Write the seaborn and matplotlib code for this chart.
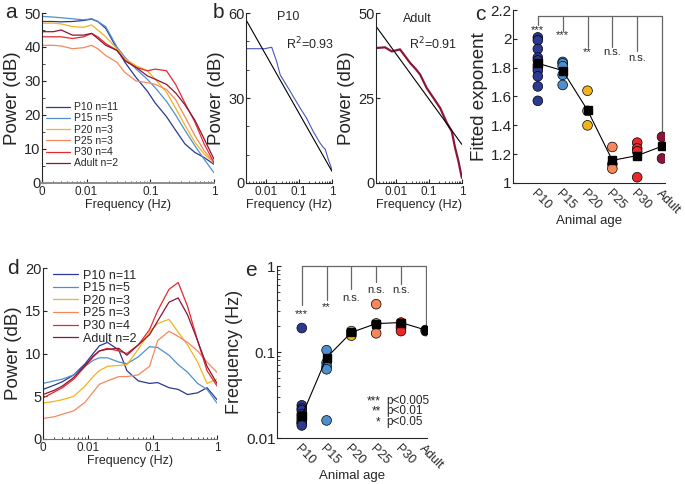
import numpy as np
import pandas as pd
import seaborn as sns
import matplotlib.pyplot as plt
from matplotlib.ticker import MultipleLocator, NullFormatter

sns.set_style('ticks')
plt.rcParams['font.family'] = ['Liberation Sans', 'DejaVu Sans']
plt.rcParams['xtick.direction'] = 'in'
plt.rcParams['ytick.direction'] = 'in'
plt.rcParams['axes.linewidth'] = 0.8

ages = ['P10', 'P15', 'P20', 'P25', 'P30', 'Adult']
counts = [11, 5, 3, 3, 4, 2]
colors = ['#2b3990', '#4f8fcf', '#f0b41c', '#f7875a', '#e8282b', '#8c1537']

# panel a - power spectra (dB)
freq_a = [0.002, 0.003, 0.004, 0.006, 0.009, 0.012, 0.015, 0.02, 0.03, 0.04,
          0.06, 0.09, 0.12, 0.18, 0.25, 0.35, 0.5, 0.7, 1.0]
a_p10 = [47.5, 47.5, 47.4, 47.5, 47.8, 48.2, 47.5, 45.5, 39.5, 35.5, 31, 27, 23.5, 19.5, 15.5, 11.5, 9, 7.5, 5.5]
a_p15 = [49, 48.8, 48.6, 48.3, 48, 48.3, 47.5, 46, 40, 37, 33.5, 30.5, 28, 24, 20, 15.5, 11, 7, 3]
a_p20 = [47, 47, 46.8, 46, 45.8, 46.5, 45, 43, 39.5, 36.5, 34.5, 33, 30.5, 26.7, 22, 17, 12, 8.5, 6]
a_p25 = [40.5, 40.5, 40.3, 39.5, 39.8, 40.5, 39.5, 37.5, 35.5, 32.5, 30, 29.5, 29, 27.5, 24.5, 19.5, 14, 9.5, 6]
a_p30 = [43, 43, 43, 42.5, 43, 44, 43, 41, 39, 36, 34, 33, 33.5, 33, 29, 23.5, 18, 11.5, 6]
a_adult = [44.5, 44.5, 45, 43.5, 43.5, 44, 42.5, 40.5, 39, 36, 34, 31.5, 30.5, 29, 26.5, 23, 18.5, 13, 7]

# panel b - single spectra with power-law fit
freq_b10 = [0.0025, 0.005, 0.0094, 0.012, 0.015, 0.021, 0.027, 0.054, 0.108, 0.17, 0.27, 0.44, 0.55, 0.62, 0.78, 1.0]
b_p10 = [47.4, 47.4, 47.4, 47.7, 47.9, 43, 38.2, 32.4, 26.5, 22.9, 18.2, 14, 12.5, 12, 8.2, 4.7]
freq_bad = [0.0025, 0.0047, 0.0075, 0.0133, 0.02, 0.027, 0.04, 0.054, 0.086, 0.137, 0.22, 0.35, 0.49, 0.62, 0.78, 0.99]
b_adult = [39.7, 39.9, 38.7, 39.3, 37, 35.3, 33.5, 31.9, 27.9, 25, 22, 17.6, 15.2, 10.3, 6.4, 1.5]
fit_f = [0.0025, 1.0]
fit_p10 = [57.6, 4.1]
fit_adult = [46.1, 11.3]

# panel c - fitted exponents
c_vals = [[2.01, 1.99, 1.93, 1.87, 1.85, 1.82, 1.80, 1.78, 1.74, 1.67, 1.57],
          [1.84, 1.83, 1.81, 1.75, 1.68],
          [1.64, 1.50, 1.40],
          [1.25, 1.13, 1.10],
          [1.28, 1.24, 1.22, 1.04],
          [1.32, 1.17]]
c_mean = [1.83, 1.78, 1.505, 1.157, 1.19, 1.255]
c_stars = ['***', '***', '**', 'n.s.', 'n.s.']
c_star_y = [2.06, 2.026, 1.91, 1.91, 1.864]
c_drop = [2.096, 2.056, 1.945, 1.945, 1.917, 1.343]
c_top = 2.155

# panel d - relative power spectra
freq_d = freq_a
d_p10 = [5.8, 6.3, 6.7, 7.5, 8.8, 10.0, 10.9, 11.3, 10.4, 8.0, 6.8, 6.5, 6.6, 6.0, 5.8, 5.2, 5.4, 6.0, 4.6]
d_p15 = [6.5, 6.8, 7.0, 7.5, 8.5, 9.2, 9.5, 9.5, 9.0, 8.8, 9.6, 10.8, 10.7, 9.8, 8.7, 7.8, 6.5, 5.8, 4.2]
d_p20 = [4.2, 4.4, 4.6, 5.0, 6.2, 7.3, 8.0, 8.5, 8.6, 8.7, 10.5, 12.5, 13.5, 14.0, 12.5, 11.0, 9.0, 6.5, 7.0]
d_p25 = [2.4, 2.6, 2.9, 3.3, 4.3, 5.5, 6.4, 6.8, 7.3, 7.3, 7.5, 8.5, 11.5, 12.6, 12.0, 11.3, 10.3, 9.0, 7.8]
d_p30 = [4.8, 5.5, 6.0, 7.0, 8.5, 9.6, 10.3, 10.6, 10.3, 10.0, 11.0, 12.8, 15.0, 17.5, 18.3, 15.5, 11.5, 8.0, 6.2]
d_adult = [5.2, 5.7, 6.2, 7.2, 8.6, 9.7, 10.3, 10.5, 10.6, 9.8, 11.0, 12.2, 13.8, 16.0, 16.5, 14.5, 11.5, 8.5, 6.5]

# panel e - peak frequency
e_vals = [[0.19, 0.024, 0.022, 0.021, 0.019, 0.018, 0.017, 0.016, 0.015, 0.015, 0.014],
          [0.105, 0.075, 0.068, 0.063, 0.016],
          [0.175, 0.165, 0.155],
          [0.36, 0.215, 0.165],
          [0.22, 0.2, 0.19, 0.175],
          [0.18, 0.175]]
e_center = [0.018, 0.086, 0.169, 0.214, 0.22, 0.18]
e_stars = ['***', '**', 'n.s.', 'n.s.', 'n.s.']
e_star_y = [0.273, 0.335, 0.425, 0.52, 0.52]
e_drop = [0.35, 0.40, 0.545, 0.65, 0.62, 0.197]
e_top = 1.0


def spectra_frame(freq, curves):
    rows = []
    for age, n, vals in zip(ages, counts, curves):
        for f, v in zip(freq, vals):
            rows.append((f, v, f'{age} n={n}'))
    return pd.DataFrame(rows, columns=['freq', 'power', 'group'])


group_names = [f'{a} n={n}' for a, n in zip(ages, counts)]
group_pal = dict(zip(group_names, colors))
age_pal = dict(zip(ages, colors))


def groups_frame(vals):
    return pd.DataFrame({'age': np.repeat(ages, [len(v) for v in vals]),
                         'value': np.concatenate(vals)})


def freq_axis(ax, zero_tick=True):
    ax.set_xscale('log')
    if zero_tick:
        ax.set_xlim(0.002, 1)
        ax.set_xticks([0.002, 0.01, 0.1, 1], ['0', '0.01', '0.1', '1'])
    else:
        ax.set_xlim(0.0025, 1)
        ax.set_xticks([0.01, 0.1, 1], ['0.01', '0.1', '1'])
    ax.xaxis.set_minor_formatter(NullFormatter())
    ax.tick_params(axis='x', labelsize=8.5, length=3, pad=2)
    ax.tick_params(axis='x', which='minor', length=1.8)
    ax.tick_params(axis='y', labelsize=10.5, length=3, pad=1)
    ax.tick_params(axis='y', which='minor', length=2)
    ax.set_xlabel('Frequency (Hz)', fontsize=9, labelpad=1)
    ax.set_ylabel('Power (dB)', fontsize=13.5, labelpad=2)
    sns.despine(ax=ax)


def age_axis(ax):
    ax.tick_params(axis='x', length=0, labelsize=9, pad=3)
    for lab in ax.get_xticklabels():
        lab.set_rotation(-45)
        lab.set_ha('left')
        lab.set_va('top')
        lab.set_rotation_mode('anchor')
    ax.tick_params(axis='y', labelsize=11, length=3, pad=1)
    ax.set_xlabel('Animal age', fontsize=9.5, labelpad=-1)
    sns.despine(ax=ax)


fig = plt.figure(figsize=(6.85, 4.84), dpi=100)
W, H = 685, 484


def box(l, r, t, b):
    return [l / W, 1 - b / H, (r - l) / W, (b - t) / H]


ax_a = fig.add_axes(box(42, 214, 13, 183))
ax_b1 = fig.add_axes(box(246, 332, 13, 183))
ax_b2 = fig.add_axes(box(376, 462, 13, 183))
ax_c = fig.add_axes(box(513, 665, 10, 183))
ax_d = fig.add_axes(box(43, 217, 268, 439))
ax_e = fig.add_axes(box(277, 427, 266, 438))

# a
df_a = spectra_frame(freq_a, [a_p10, a_p15, a_p20, a_p25, a_p30, a_adult])
sns.lineplot(data=df_a, x='freq', y='power', hue='group', hue_order=group_names,
             palette=group_pal, estimator=None, lw=0.9, ax=ax_a)
freq_axis(ax_a)
ax_a.set_ylim(0, 50)
ax_a.yaxis.set_major_locator(MultipleLocator(10))
ax_a.yaxis.set_minor_locator(MultipleLocator(5))
ax_a.spines['bottom'].set_color('0.55')
ax_a.spines['bottom'].set_linewidth(1.4)
ax_a.legend(frameon=False, loc='upper left', bbox_to_anchor=(0.0, 0.5), fontsize=7.5,
            handlelength=2.3, labelspacing=0.12, handletextpad=0.4, borderaxespad=0)

# b
sns.lineplot(x=freq_b10, y=b_p10, color='#4a55c0', lw=0.8, ax=ax_b1)
sns.lineplot(x=fit_f, y=fit_p10, color='k', lw=0.8, ax=ax_b1)
freq_axis(ax_b1, zero_tick=False)
ax_b1.set_ylim(0, 60)
ax_b1.set_yticks([0, 30, 60])
ax_b1.yaxis.set_minor_locator(MultipleLocator(10))
ax_b1.text(0.49, 0.975, 'P10', transform=ax_b1.transAxes, ha='center', va='center', fontsize=9)
ax_b1.text(0.74, 0.82, r'R$^2$=0.93', transform=ax_b1.transAxes, ha='center', va='center', fontsize=9)

sns.lineplot(x=freq_bad, y=b_adult, color=colors[5], lw=1.6, ax=ax_b2)
sns.lineplot(x=fit_f, y=fit_adult, color='k', lw=0.8, ax=ax_b2)
freq_axis(ax_b2, zero_tick=False)
ax_b2.set_ylim(0, 50)
ax_b2.set_yticks([0, 25, 50])
ax_b2.text(0.48, 0.965, 'Adult', transform=ax_b2.transAxes, ha='center', va='center', fontsize=9)
ax_b2.text(0.66, 0.82, r'R$^2$=0.91', transform=ax_b2.transAxes, ha='center', va='center', fontsize=9)

# c
df_c = groups_frame(c_vals)
ax_c.plot([0, 5], [c_top, c_top], color='0.4', lw=0.9, zorder=1)
for i, yb in enumerate(c_drop):
    ax_c.plot([i, i], [c_top, yb], color='0.4', lw=0.9, zorder=1)
for i, (s, ys) in enumerate(zip(c_stars, c_star_y)):
    ax_c.text(i, ys, s, ha='center', va='center', fontsize=8)
sns.stripplot(data=df_c, x='age', y='value', hue='age', palette=age_pal, jitter=False,
              size=7, linewidth=0.5, edgecolor='k', legend=False, ax=ax_c, zorder=3)
ax_c.plot(range(len(ages)), c_mean, color='k', lw=0.8, marker='s', ms=6, zorder=4)
ax_c.set_xlim(-1.0, 5.12)
ax_c.set_ylim(1.0, 2.2)
ax_c.set_yticks([1, 1.2, 1.4, 1.6, 1.8, 2, 2.2], ['1', '1.2', '1.4', '1.6', '1.8', '2', '2.2'])
ax_c.set_ylabel('Fitted exponent', fontsize=13.5, labelpad=2)
age_axis(ax_c)

# d
df_d = spectra_frame(freq_d, [d_p10, d_p15, d_p20, d_p25, d_p30, d_adult])
sns.lineplot(data=df_d, x='freq', y='power', hue='group', hue_order=group_names,
             palette=group_pal, estimator=None, lw=0.9, ax=ax_d)
freq_axis(ax_d)
ax_d.set_ylim(0, 20)
ax_d.yaxis.set_major_locator(MultipleLocator(5))
ax_d.spines['bottom'].set_color('0.45')
ax_d.legend(frameon=False, loc='upper left', bbox_to_anchor=(0.03, 1.02), fontsize=9,
            handlelength=2.0, labelspacing=0.05, handletextpad=0.4, borderaxespad=0)

# e
df_e = groups_frame(e_vals)
ax_e.plot([0, 5], [e_top, e_top], color='0.4', lw=0.9, zorder=1, clip_on=False)
for i, yb in enumerate(e_drop):
    ax_e.plot([i, i], [e_top, yb], color='0.4', lw=0.9, zorder=1)
for i, (s, ys) in enumerate(zip(e_stars, e_star_y)):
    ax_e.text(i, ys, s, ha='center', va='center', fontsize=8)
sns.stripplot(data=df_e, x='age', y='value', hue='age', palette=age_pal, jitter=False,
              size=7, linewidth=0.5, edgecolor='k', legend=False, ax=ax_e, zorder=3)
ax_e.plot(range(len(ages)), e_center, color='k', lw=0.8, marker='s', ms=6, zorder=4)
ax_e.set_yscale('log')
ax_e.set_xlim(-1.0, 5.05)
ax_e.set_ylim(0.01, 1)
ax_e.set_yticks([0.01, 0.1, 1], ['0.01', '0.1', '1'])
ax_e.yaxis.set_minor_formatter(NullFormatter())
ax_e.tick_params(axis='y', which='minor', length=2)
ax_e.set_ylabel('Frequency (Hz)', fontsize=13, labelpad=2)
age_axis(ax_e)
for s, lab, yy in zip(['***', '**', '*'], ['p<0.005', 'p<0.01', 'p<0.05'], [0.214, 0.156, 0.092]):
    ax_e.text(0.69, yy, s, transform=ax_e.transAxes, ha='right', va='center', fontsize=8.5)
    ax_e.text(0.73, yy, lab, transform=ax_e.transAxes, ha='left', va='center', fontsize=8.5)

# panel letters
for letter, x, y in [('a', 5, 12), ('b', 213, 12), ('c', 475, 14), ('d', 7, 268), ('e', 245, 270)]:
    fig.text(x / W, 1 - y / H, letter, fontsize=15, ha='left', va='center')

fig.savefig('out.png', dpi=100)
